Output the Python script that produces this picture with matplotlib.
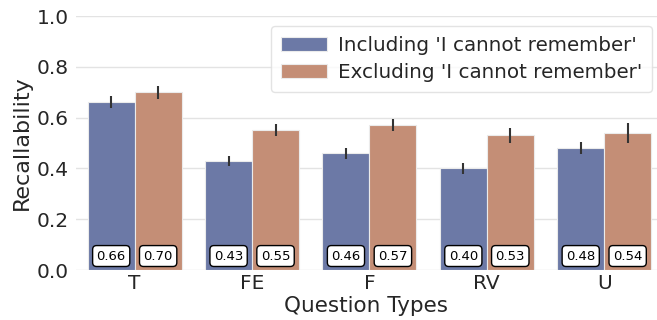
import matplotlib
matplotlib.use("Agg")
import matplotlib.pyplot as plt
import numpy as np

categories = ["T", "FE", "F", "RV", "U"]
series_names = ["Including 'I cannot remember'", "Excluding 'I cannot remember'"]
including = [0.66, 0.43, 0.46, 0.40, 0.48]
excluding = [0.70, 0.55, 0.57, 0.53, 0.54]
including_err = [0.024, 0.020, 0.022, 0.022, 0.024]
excluding_err = [0.026, 0.024, 0.024, 0.031, 0.040]
yticks = [0.0, 0.2, 0.4, 0.6, 0.8, 1.0]

colors = ["#6c79a6", "#c48e76"]

fig = plt.figure(figsize=(6.57, 3.2), dpi=100)
ax = fig.add_axes([76 / 657, 50 / 320, 1 - 76 / 657, 254 / 320])

x = np.arange(len(categories))
w = 0.4
for i, (vals, errs) in enumerate([(including, including_err), (excluding, excluding_err)]):
    pos = x + (i - 0.5) * w
    ax.bar(pos, vals, width=w, color=colors[i], edgecolor="#ebebeb", linewidth=0.8,
           label=series_names[i], zorder=2)
    ax.errorbar(pos, vals, yerr=errs, fmt="none", ecolor="#333333", elinewidth=1.5,
                capsize=0, zorder=3)
    for p, v in zip(pos, vals):
        ax.text(p, 0.055, f"{v:.2f}", ha="center", va="center", fontsize=9.5,
                bbox=dict(boxstyle="round,pad=0.3", facecolor="white", edgecolor="black",
                          linewidth=1.0), zorder=4)

ax.set_xlim(-0.5, 4.45)
ax.set_ylim(0, 1.0)
ax.set_yticks(yticks)
ax.set_yticklabels([f"{t:.1f}" for t in yticks])
ax.set_xticks(x)
ax.set_xticklabels(categories)
ax.tick_params(axis="both", labelsize=14.5, length=0, colors="#262626")
ax.tick_params(axis="x", pad=3)
ax.tick_params(axis="y", pad=5)
ax.set_xlabel("Question Types", fontsize=15.5, color="#262626", labelpad=2)
ax.set_ylabel("Recallability", fontsize=16, color="#262626", labelpad=4)
ax.yaxis.grid(True, color="#e3e3e3", linewidth=1.0, zorder=0)
ax.set_axisbelow(True)
for s in ax.spines.values():
    s.set_visible(False)

leg = ax.legend(loc="upper right", fontsize=14.3, frameon=True, handlelength=2.3,
                handletextpad=0.55, borderpad=0.5, labelspacing=0.4, borderaxespad=0,
                bbox_to_anchor=(0.991, 0.96))
leg.get_frame().set_edgecolor("#dddddd")
for t in leg.get_texts():
    t.set_color("#262626")

fig.savefig("out.png", dpi=100)
